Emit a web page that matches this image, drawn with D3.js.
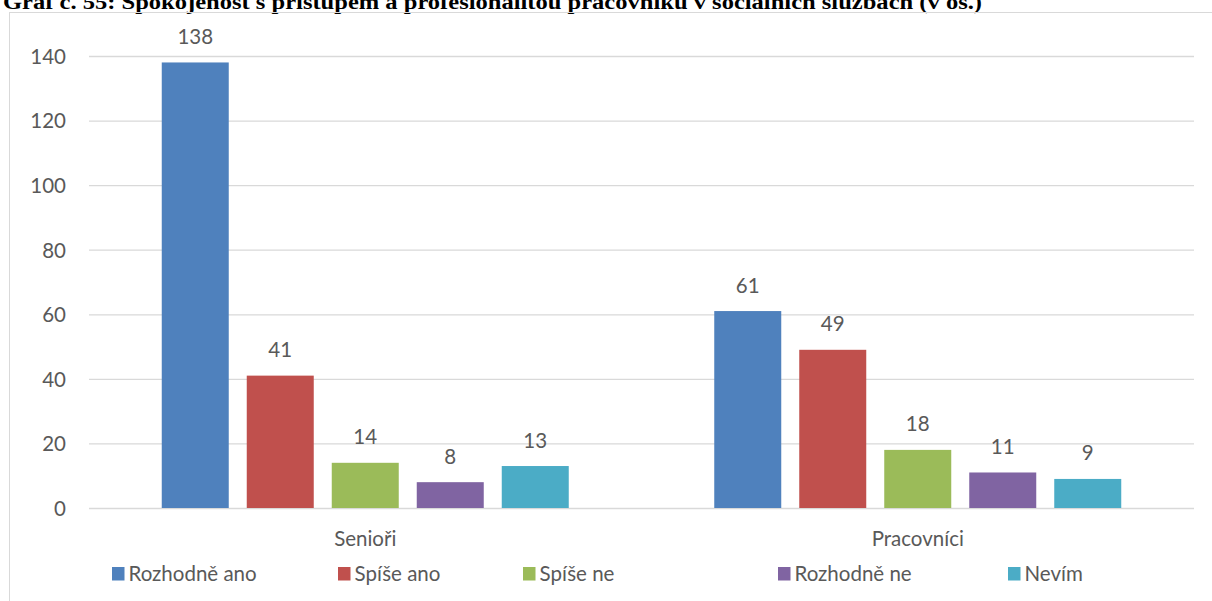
<!DOCTYPE html>
<html>
<head>
<meta charset="utf-8">
<script src="https://cdn.jsdelivr.net/npm/d3@7"></script>
<style>
  html, body { margin: 0; padding: 0; background: #fff; overflow: hidden; }
  svg { display: block; }
</style>
</head>
<body>
<svg id="chart" width="1212" height="601"></svg>
<script>
// Respondent groups and answer categories
const groups = ["Senioři", "Pracovníci"];
const answers = ["Rozhodně ano", "Spíše ano", "Spíše ne", "Rozhodně ne", "Nevím"];

// Counts per answer, one array per answer in group order
const rozhodneAno = [138, 61];
const spiseAno = [41, 49];
const spiseNe = [14, 18];
const rozhodneNe = [8, 11];
const nevim = [13, 9];

const yTicks = [0, 20, 40, 60, 80, 100, 120, 140];
const colors = ["#4F81BD", "#C0504D", "#9BBB59", "#8064A2", "#4BACC6"];

const series = [rozhodneAno, spiseAno, spiseNe, rozhodneNe, nevim];
const rows = [];
groups.forEach((g, gi) => {
  answers.forEach((a, ai) => rows.push({ group: g, answer: a, value: series[ai][gi], color: colors[ai] }));
});

const svg = d3.select("#chart");
const textColor = "#595959";
const font = "Lato, 'Open Sans', sans-serif";

// Title (bold serif, above the chart frame)
svg.append("text")
  .attr("x", 3).attr("y", 8.5)
  .attr("font-family", "'Liberation Serif', 'Times New Roman', serif")
  .attr("font-weight", "bold")
  .attr("font-size", 20)
  .attr("textLength", 979)
  .attr("lengthAdjust", "spacingAndGlyphs")
  .attr("fill", "#000")
  .text("Graf č. 55: Spokojenost s přístupem a profesionalitou pracovníků v sociálních službách (v os.)");

// Chart frame
svg.append("rect")
  .attr("x", 9.5).attr("y", 12.5)
  .attr("width", 1230).attr("height", 620)
  .attr("fill", "none")
  .attr("stroke", "#D9D9D9")
  .attr("stroke-width", 1);

const plot = { left: 89, right: 1194, top: 56, bottom: 508 };

const y = d3.scaleLinear().domain([0, 140]).range([plot.bottom, plot.top]);
const x0 = d3.scaleBand().domain(groups).range([plot.left, plot.right]).padding(0);
const groupInner = 407;
const x1 = d3.scaleBand().domain(answers)
  .range([(x0.bandwidth() - groupInner) / 2, (x0.bandwidth() + groupInner) / 2])
  .paddingInner(18 / 85).paddingOuter(0);

// Gridlines
const yAxis = d3.axisLeft(y).tickValues(yTicks).tickSize(-(plot.right - plot.left)).tickPadding(23);
const gy = svg.append("g").attr("transform", `translate(${plot.left},0)`).call(yAxis);
gy.select(".domain").remove();
gy.selectAll(".tick line").attr("stroke", "#D9D9D9").attr("stroke-width", 1.3);
gy.selectAll(".tick text")
  .attr("font-family", font).attr("font-size", 20.5)
  .attr("fill", textColor).attr("dy", "0.36em");

// Bars
const g = svg.append("g");
g.selectAll("rect.bar").data(rows).join("rect")
  .attr("class", "bar")
  .attr("x", d => x0(d.group) + x1(d.answer))
  .attr("y", d => y(d.value))
  .attr("width", x1.bandwidth())
  .attr("height", d => y(0) - y(d.value))
  .attr("fill", d => d.color);

// Value labels
g.selectAll("text.val").data(rows).join("text")
  .attr("class", "val")
  .attr("x", d => x0(d.group) + x1(d.answer) + x1.bandwidth() / 2)
  .attr("y", d => y(d.value) - 18.5)
  .attr("text-anchor", "middle")
  .attr("font-family", font).attr("font-size", 20.5)
  .attr("fill", textColor)
  .text(d => d.value);

// Category axis labels
const xAxis = d3.axisBottom(x0).tickSize(0).tickPadding(0);
const gx = svg.append("g").attr("transform", `translate(0,${plot.bottom})`).call(xAxis);
gx.select(".domain").remove();
gx.selectAll(".tick text")
  .attr("y", 37.5).attr("dy", 0)
  .attr("font-family", font).attr("font-size", 20.5)
  .attr("fill", textColor);

// Legend
const legendX = [112, 338, 523, 778, 1008];
const legend = svg.append("g").attr("transform", "translate(0,567)");
const items = legend.selectAll("g").data(answers).join("g")
  .attr("transform", (d, i) => `translate(${legendX[i]},0)`);
items.append("rect").attr("width", 12.5).attr("height", 13.5).attr("fill", (d, i) => colors[i]);
items.append("text")
  .attr("x", 16.5).attr("y", 14)
  .attr("font-family", font).attr("font-size", 20.5)
  .attr("fill", textColor)
  .text(d => d);
</script>
</body>
</html>
